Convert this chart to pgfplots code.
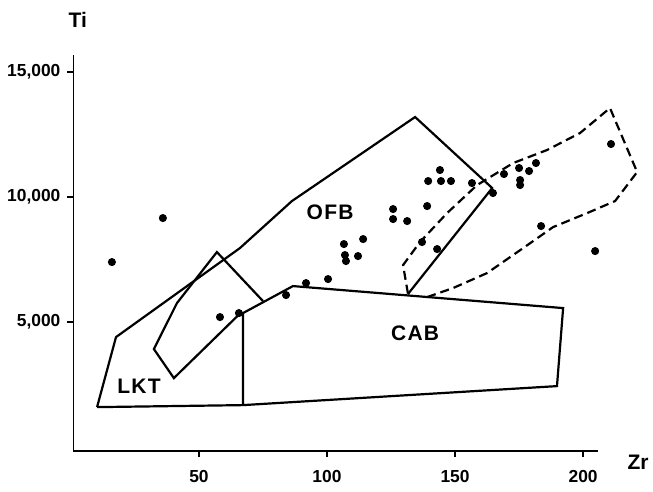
\documentclass[border=0pt]{standalone}
\usepackage{pgfplots}
\pgfplotsset{compat=1.18}
\usepackage{fontspec}
\setmainfont{Liberation Sans}
\begin{document}
\begin{tikzpicture}
\begin{axis}[
  x=1.28pt, y=0.0125pt,
  xmin=1, xmax=206, ymin=-150, ymax=15700,
  axis lines=left,
  axis line style={-, line width=0.9pt},
  clip=false,
  xtick={50,100,150,200},
  ytick={5000,10000,15000},
  yticklabels={{5,000},{10,000},{15,000}},
  tick align=outside,
  major tick length=3pt,
  tick style={line width=0.8pt, black},
  /pgf/number format/assume math mode=true,
  ticklabel style={font=\fontsize{8.7}{10}\selectfont\bfseries},
  xticklabel style={yshift=-3pt},
  scaled ticks=false,
]
% CAB field
\addplot[black, line width=1.1pt, sharp plot, mark=none] coordinates {
  (67.2,1680) (67.2,5360) (86.7,6440) (192.2,5560) (189.8,2440) (67.2,1680)};
% LKT base line
\addplot[black, line width=1.1pt, sharp plot, mark=none] coordinates {
  (10.2,1600) (67.2,1680)};
% OFB / outer boundary
\addplot[black, line width=1.1pt, sharp plot, mark=none] coordinates {
  (10.2,1600) (17.6,4400) (66.0,7960) (86.3,9840) (134.4,13200) (164.5,10360) (131.6,6120)};
% inner field
\addplot[black, line width=1.1pt, sharp plot, mark=none] coordinates {
  (75.0,5840) (57.0,7800) (41.4,5760) (32.4,3920) (40.2,2760) (66.4,5380)};
% dashed field
\addplot[black, line width=1.1pt, sharp plot, mark=none, dash pattern=on 4.5pt off 2.5pt] coordinates {
  (131.6,6140) (129.7,7280) (136.3,8200) (146.9,9360) (158.6,10480) (172.7,11360)
  (185.9,11880) (198.8,12560) (210.5,13560) (221.1,11000) (212.5,9840) (201.6,9360)
  (188.3,8800) (176.6,7960) (162.5,6960) (149.2,6360) (139.1,6000)};
% samples
\addplot[only marks, mark=*, mark size=1.8pt, black] table {
x y
16.0 7400
35.9 9160
58.2 5200
65.6 5360
84.0 6080
91.8 6560
100.4 6720
106.6 8120
107.0 7680
107.4 7440
112.1 7640
114.1 8320
125.8 9520
125.8 9120
131.3 9040
137.1 8200
143.0 7920
139.5 10640
144.1 11080
144.5 10640
148.4 10640
139.1 9640
156.6 10560
164.8 10160
169.1 10920
175.0 11160
178.9 11040
181.6 11360
175.4 10680
175.4 10480
210.9 12120
183.6 8840
204.7 7840
};
\node[font=\fontsize{10.5}{12}\selectfont\bfseries] at (axis cs:101.2,9400) {O\hspace{0.6pt}F\hspace{0.6pt}B};
\node[font=\fontsize{10.5}{12}\selectfont\bfseries] at (axis cs:134.4,4560) {C\hspace{0.6pt}A\hspace{0.6pt}B};
\node[font=\fontsize{10.5}{12}\selectfont\bfseries] at (axis cs:26.6,2440) {L\hspace{0.6pt}K\hspace{0.6pt}T};
\node[font=\fontsize{10.5}{12}\selectfont\bfseries] at (axis cs:2.7,17080) {Ti};
\node[font=\fontsize{10.5}{12}\selectfont\bfseries] at (axis cs:221.5,-600) {Zr};
\coordinate (bbA) at (axis cs:-27.7,-1760);
\coordinate (bbB) at (axis cs:227.3,17880);
\end{axis}
\pgfresetboundingbox
\path[use as bounding box] (bbA) rectangle (bbB);
\end{tikzpicture}
\end{document}
